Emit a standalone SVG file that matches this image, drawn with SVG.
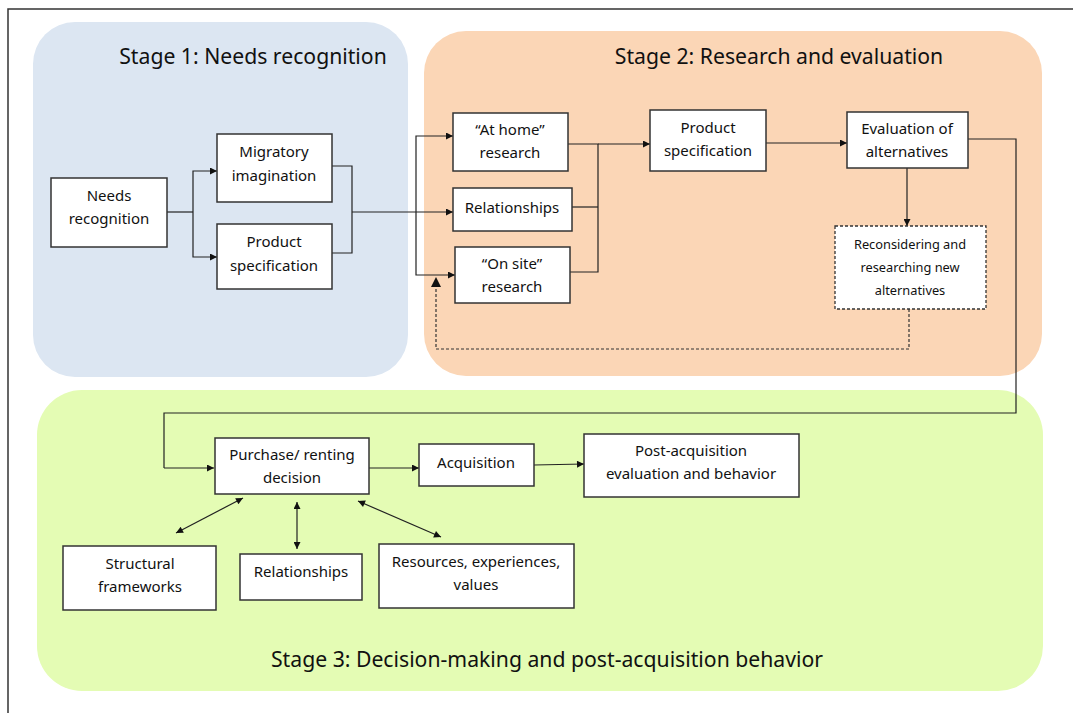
<svg xmlns="http://www.w3.org/2000/svg" width="1073" height="713" viewBox="0 0 1073 713">
<defs>
<marker id="ah" viewBox="0 0 10 10" refX="10" refY="5" markerWidth="9" markerHeight="7" markerUnits="userSpaceOnUse" orient="auto-start-reverse">
<path d="M0,0 L10,5 L0,10 z" fill="#111"/>
</marker>
<style>
.box{fill:#fff;stroke:#333;stroke-width:1.5}
.dbox{fill:#fff;stroke:#333;stroke-width:1.3;stroke-dasharray:3 2}
.t{font-family:"Noto Sans","Open Sans",sans-serif;font-size:15px;fill:#111;text-anchor:middle}
.ts{font-family:"Noto Sans","Open Sans",sans-serif;font-size:12.8px;fill:#111;text-anchor:middle}
.title{font-family:"Noto Sans","Open Sans",sans-serif;font-size:21.2px;fill:#111;text-anchor:middle}
.ln{fill:none;stroke:#222;stroke-width:1.2}
.la{fill:none;stroke:#222;stroke-width:1.2;marker-end:url(#ah)}
.lb{fill:none;stroke:#222;stroke-width:1.2;marker-end:url(#ah);marker-start:url(#ah)}
.dl{fill:none;stroke:#333;stroke-width:1.2;stroke-dasharray:3 2}
</style>
</defs>
<rect width="1073" height="713" fill="#fff"/>
<path d="M8,713 V9 H1073" fill="none" stroke="#333" stroke-width="1.5"/>

<g id="stage1">
<rect x="33" y="22" width="375" height="355" rx="42" fill="#DCE6F2"/>
<text class="title" x="253" y="64">Stage 1: Needs recognition</text>
</g>
<g id="stage2">
<rect x="424" y="31" width="618" height="345" rx="42" fill="#FBD6B6"/>
<text class="title" x="779" y="64">Stage 2: Research and evaluation</text>
</g>
<g id="stage3">
<rect x="37" y="390" width="1006" height="301" rx="45" fill="#E4FCB4"/>
<text class="title" x="547" y="667">Stage 3: Decision-making and post-acquisition behavior</text>
</g>

<g id="connectors">
<path class="ln" d="M167,212 H193"/>
<path class="la" d="M193,212 V171 H217"/>
<path class="la" d="M193,212 V257 H217"/>
<path class="ln" d="M332,166 H352 V253 H332"/>
<path class="la" d="M352,212 H453"/>
<path class="la" d="M416,212 V136 H453"/>
<path class="la" d="M416,212 V275 H455"/>
<path class="ln" d="M568,144 H598 V272 H570"/>
<path class="ln" d="M572,207 H598"/>
<path class="la" d="M598,144 H650"/>
<path class="la" d="M766,143 H847"/>
<path class="la" d="M907,168 V226"/>
<path class="dl" d="M909,309 V349 H436 V286"/>
<path d="M431,287 L436,277 L441,287 z" fill="#111"/>
<path class="ln" d="M968,139 H1016 V413 H164 V468"/>
<path class="la" d="M164,468 H214"/>
<path class="la" d="M369,468 H419"/>
<path class="la" d="M534,465 L584,464"/>
<path class="lb" d="M176,533 L243,498"/>
<path class="lb" d="M297,502 V549"/>
<path class="lb" d="M358,501 L441,537"/>
</g>

<g id="n-needs"><rect class="box" x="51" y="178" width="116" height="69"/>
<text class="t" x="109" y="201">Needs</text><text class="t" x="109" y="224">recognition</text></g>
<g id="n-migratory"><rect class="box" x="217" y="134" width="115" height="68"/>
<text class="t" x="274" y="157">Migratory</text><text class="t" x="274" y="181">imagination</text></g>
<g id="n-prodspec1"><rect class="box" x="217" y="224" width="115" height="65"/>
<text class="t" x="274" y="247">Product</text><text class="t" x="274" y="271">specification</text></g>

<g id="n-athome"><rect class="box" x="453" y="113" width="115" height="58"/>
<text class="t" x="510" y="135">“At home”</text><text class="t" x="510" y="158">research</text></g>
<g id="n-rel2"><rect class="box" x="453" y="188" width="119" height="43"/>
<text class="t" x="512" y="213">Relationships</text></g>
<g id="n-onsite"><rect class="box" x="455" y="247" width="115" height="56"/>
<text class="t" x="512" y="269">“On site”</text><text class="t" x="512" y="292">research</text></g>
<g id="n-prodspec2"><rect class="box" x="650" y="110" width="116" height="61"/>
<text class="t" x="708" y="133">Product</text><text class="t" x="708" y="156">specification</text></g>
<g id="n-eval"><rect class="box" x="847" y="112" width="121" height="56"/>
<text class="t" x="907" y="134">Evaluation of</text><text class="t" x="907" y="157">alternatives</text></g>
<g id="n-recon"><rect class="dbox" x="835" y="226" width="151" height="83"/>
<text class="ts" x="910" y="249">Reconsidering and</text><text class="ts" x="910" y="272">researching new</text><text class="ts" x="910" y="295">alternatives</text></g>

<g id="n-purchase"><rect class="box" x="215" y="438" width="154" height="56"/>
<text class="t" x="292" y="460">Purchase/ renting</text><text class="t" x="292" y="483">decision</text></g>
<g id="n-acq"><rect class="box" x="419" y="444" width="115" height="42"/>
<text class="t" x="476" y="468">Acquisition</text></g>
<g id="n-post"><rect class="box" x="584" y="434" width="215" height="63"/>
<text class="t" x="691" y="456">Post-acquisition</text><text class="t" x="691" y="479">evaluation and behavior</text></g>
<g id="n-struct"><rect class="box" x="63" y="546" width="153" height="64"/>
<text class="t" x="140" y="569">Structural</text><text class="t" x="140" y="592">frameworks</text></g>
<g id="n-rel3"><rect class="box" x="240" y="554" width="122" height="46"/>
<text class="t" x="301" y="577">Relationships</text></g>
<g id="n-res"><rect class="box" x="379" y="544" width="195" height="64"/>
<text class="t" x="476" y="567">Resources, experiences,</text><text class="t" x="476" y="590">values</text></g>
</svg>
